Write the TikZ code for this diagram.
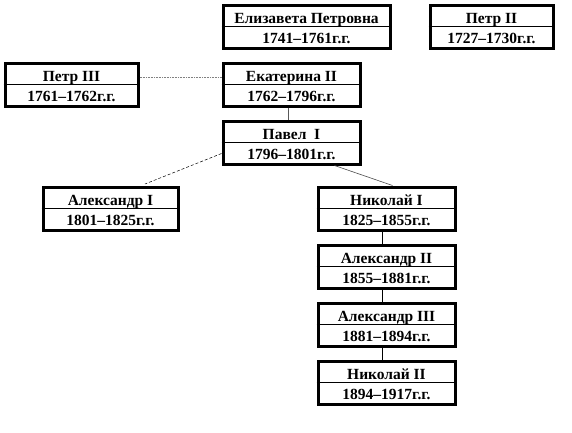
\documentclass[tikz,border=0pt]{standalone}
\usepackage{fontspec}
\setmainfont{Liberation Serif}
\begin{document}
\begin{tikzpicture}[x=1pt,y=-1pt,
  boxst/.style={draw=black,line width=3pt,minimum height=43pt,inner sep=0pt,fill=white},
  txt/.style={font=\fontsize{15.5}{17}\selectfont\bfseries,inner sep=0pt,anchor=base},
  divline/.style={line width=1pt},
  link/.style={line width=0.6pt},
]
\useasboundingbox (0,0) rectangle (572,432);
\newcommand\famboxA[6]{%
  \node[boxst,minimum width=#4] (#1) at (#2,#3+21.5) {};
  \draw[divline] (#1.west) -- (#1.east);
  \node[txt] (#1a) at (#2,#3+18) {#5};
  \node[txt] (#1b) at (#2,#3+38.5) {#6};
}
\famboxA{eliz}{306.5}{5}{167pt}{Елизавета Петровна}{1741–1761г.г.}
\famboxA{petrB}{491.5}{5}{123pt}{Петр II}{1727–1730г.г.}
\famboxA{petrC}{71.5}{63}{133pt}{Петр III}{1761–1762г.г.}
\famboxA{ekat}{291.5}{63}{137pt}{Екатерина II}{1762–1796г.г.}
\famboxA{pavel}{291.5}{121}{137pt}{Павел\ \ I}{1796–1801г.г.}
\famboxA{alexA}{110.5}{187}{135pt}{Александр I}{1801–1825г.г.}
\famboxA{nikA}{386.5}{187}{137pt}{Николай I}{1825–1855г.г.}
\famboxA{alexB}{386.5}{245}{137pt}{Александр II}{1855–1881г.г.}
\famboxA{alexC}{386.5}{303}{137pt}{Александр III}{1881–1894г.г.}
\famboxA{nikB}{386.5}{361}{137pt}{Николай II}{1894–1917г.г.}
\coordinate (aend) at (145,184);
\draw[link,densely dotted,gray] ([yshift=7.5pt]petrC.east) -- ([yshift=7.5pt]ekat.west);
\draw[link,gray!70!black] ([xshift=-3pt]ekat.south) -- ([xshift=-3pt]pavel.north);
\draw[line width=0.5pt,densely dashed] ([yshift=-11pt]pavel.west) -- (aend);
\draw[link,gray!60!black] ([xshift=43pt]pavel.south) -- ([xshift=6pt]nikA.north);
\draw[link] ([xshift=-4pt]nikA.south) -- ([xshift=-4pt]alexB.north);
\draw[link] ([xshift=-4pt]alexB.south) -- ([xshift=-4pt]alexC.north);
\draw[link] ([xshift=-4pt]alexC.south) -- ([xshift=-4pt]nikB.north);
\end{tikzpicture}
\end{document}
